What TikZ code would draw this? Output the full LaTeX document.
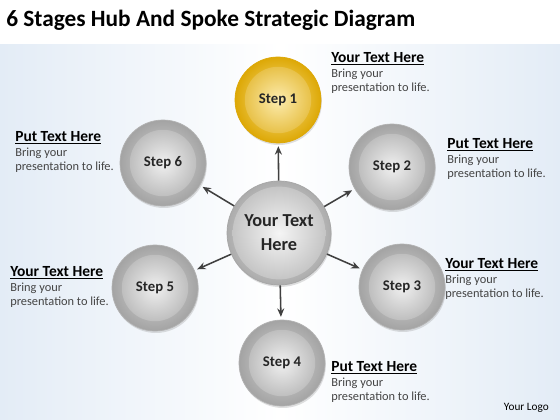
\documentclass[tikz,border=0pt]{standalone}
\usepackage{fontspec}
\setmainfont{Carlito}
\usetikzlibrary{arrows.meta,shadows}
\definecolor{goldDark}{HTML}{DDA806}
\definecolor{goldLight}{HTML}{FBE38A}
\definecolor{bodyGray}{HTML}{444444}
\definecolor{edgeBlue}{HTML}{E3ECF6}
\tikzset{
  stepball/.style={circle, minimum size=2.15cm, inner sep=0pt, text=black!85,
    font=\bfseries\fontsize{10.5}{12}\selectfont,
    inner color=gray!30, outer color=gray!72, draw=gray!60, line width=0.5pt,
    drop shadow={opacity=0.25, shadow xshift=0.6pt, shadow yshift=-1.4pt},
    path picture={\shade[inner color=gray!12, outer color=gray!62]
      (path picture bounding box.center) circle (0.83cm);}},
  goldball/.style={stepball, inner color=goldLight, outer color=goldDark, draw=goldDark,
    path picture={\shade[inner color=goldLight!70!white, outer color=goldDark!85!white]
      (path picture bounding box.center) circle (0.83cm);}},
  hubball/.style={stepball, minimum size=2.6cm, align=center,
    font=\bfseries\fontsize{13}{17}\selectfont,
    inner color=gray!20, outer color=gray!65, draw=gray!70,
    path picture={\shade[inner color=gray!8, outer color=gray!50]
      (path picture bounding box.center) circle (1.16cm);}},
  spoke/.style={-{Stealth[length=6pt,width=5pt]}, line width=1.1pt, draw=black!75, shorten >=2pt},
  headtxt/.style={inner sep=0pt, font=\bfseries\fontsize{11}{13}\selectfont, text=black},
  bodytxt/.style={inner sep=0pt, align=left, font=\fontsize{8.8}{10.4}\selectfont, text=bodyGray}
}
\begin{document}
\begin{tikzpicture}[x=0.025cm, y=-0.025cm]
  \useasboundingbox (0,0) rectangle (560,420);
  % background
  \fill[white] (0,0) rectangle (560,420);
  \shade[left color=edgeBlue, right color=edgeBlue, middle color=white] (0,45) rectangle (560,420);
  \node[anchor=base west, inner sep=0pt, font=\bfseries\fontsize{16.6}{19}\selectfont] (title) at (6,27)
    {6 Stages Hub And Spoke Strategic Diagram};

  % hub and steps
  \node[hubball] (hub) at (279,233) {Your Text\\Here};
  \node[goldball] (s1) at (278,100) {Step 1};
  \node[stepball] (s2) at (392,167) {Step 2};
  \node[stepball] (s3) at (402,287) {Step 3};
  \node[stepball] (s4) at (282,363) {Step 4};
  \node[stepball] (s5) at (155,288) {Step 5};
  \node[stepball] (s6) at (163,163) {Step 6};

  \draw[spoke] (hub) -- (s1);
  \draw[spoke] (hub) -- (s2);
  \draw[spoke] (hub) -- (s3);
  \draw[spoke] (hub) -- (s4);
  \draw[spoke] (hub) -- (s5);
  \draw[spoke] (hub) -- (s6);

  % texts
  \node[headtxt, anchor=north west] (h1) at (331,52) {\underline{Your Text Here}};
  \node[bodytxt, anchor=north west] (b1) at ([yshift=-2pt]h1.south west) {Bring your\\presentation to life.};
  \node[headtxt, anchor=north west] (h2) at (447,138) {\underline{Put Text Here}};
  \node[bodytxt, anchor=north west] (b2) at ([yshift=-2pt]h2.south west) {Bring your\\presentation to life.};
  \node[headtxt, anchor=north west] (h3) at (445,258) {\underline{Your Text Here}};
  \node[bodytxt, anchor=north west] (b3) at ([yshift=-2pt]h3.south west) {Bring your\\presentation to life.};
  \node[headtxt, anchor=north west] (h4) at (331,361) {\underline{Put Text Here}};
  \node[bodytxt, anchor=north west] (b4) at ([yshift=-2pt]h4.south west) {Bring your\\presentation to life.};
  \node[headtxt, anchor=north west] (h5) at (10,266) {\underline{Your Text Here}};
  \node[bodytxt, anchor=north west] (b5) at ([yshift=-2pt]h5.south west) {Bring your\\presentation to life.};
  \node[headtxt, anchor=north west] (h6) at (15,131) {\underline{Put Text Here}};
  \node[bodytxt, anchor=north west] (b6) at ([yshift=-2pt]h6.south west) {Bring your\\presentation to life.};

  \node[anchor=base east, inner sep=0pt, font=\fontsize{8}{10}\selectfont] (logo) at (549,410) {Your Logo};
\end{tikzpicture}
\end{document}
